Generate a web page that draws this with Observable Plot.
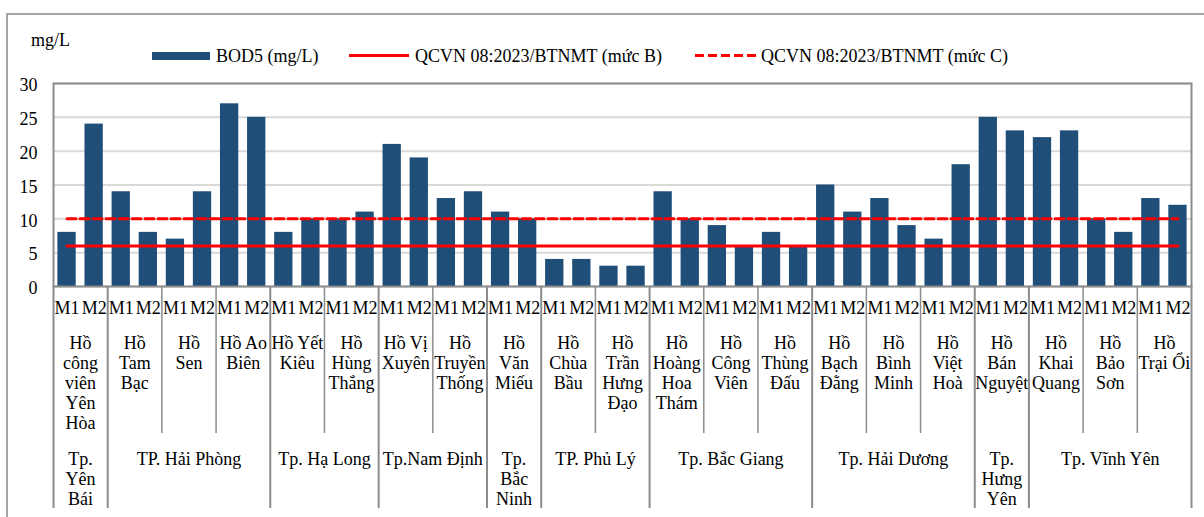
<!DOCTYPE html>
<html>
<head>
<meta charset="utf-8">
<script src="https://cdn.jsdelivr.net/npm/d3@7"></script>
<script src="https://cdn.jsdelivr.net/npm/@observablehq/plot@0.6"></script>
<style>
  html, body { margin: 0; padding: 0; background: #fff; overflow: hidden; }
  body { width: 1204px; height: 517px; font-family: "Liberation Serif", "Times New Roman", serif; color: #000; }
  #wrap { position: absolute; left: 6px; top: 13px; width: 1250px; height: 560px; border: 2px solid #a6a6a6; background: #fff; }
  #head { position: relative; height: 55px; }
  .t { position: absolute; font-family: "Liberation Serif", "Times New Roman", serif; font-size: 18px; line-height: 18px; white-space: nowrap; }
  .sw { position: absolute; }
  #chart svg { display: block; }
</style>
</head>
<body>
<div id="wrap">
  <div id="head">
    <div class="t" id="unit" style="left:23px;top:15.6px;"></div>
    <div class="sw" style="left:144px;top:37px;width:58px;height:8px;background:#1f4e79;"></div>
    <div class="t" id="lg0" style="left:208px;top:31.6px;"></div>
    <div class="sw" style="left:341px;top:38.5px;width:60px;height:3px;background:#ff0000;"></div>
    <div class="t" id="lg1" style="left:407px;top:31.6px;"></div>
    <div class="sw" style="left:687px;top:38.5px;width:61px;height:3px;background:repeating-linear-gradient(to right,#ff0000 0 9px,transparent 9px 13px);"></div>
    <div class="t" id="lg2" style="left:753px;top:31.6px;"></div>
  </div>
  <div id="chart"></div>
</div>
<script>
// ---- data ----
const unitLabel = "mg/L";
const seriesNames = ["BOD5 (mg/L)", "QCVN 08:2023/BTNMT (mức B)", "QCVN 08:2023/BTNMT (mức C)"];
const sampleLabels = ["M1", "M2"];
const lakeNames = [
  "Hồ\ncông\nviên\nYên\nHòa",
  "Hồ\nTam\nBạc",
  "Hồ\nSen",
  "Hồ Ao\nBiên",
  "Hồ Yết\nKiêu",
  "Hồ\nHùng\nThắng",
  "Hồ Vị\nXuyên",
  "Hồ\nTruyền\nThống",
  "Hồ\nVăn\nMiếu",
  "Hồ\nChùa\nBầu",
  "Hồ\nTrần\nHưng\nĐạo",
  "Hồ\nHoàng\nHoa\nThám",
  "Hồ\nCông\nViên",
  "Hồ\nThùng\nĐấu",
  "Hồ\nBạch\nĐằng",
  "Hồ\nBình\nMinh",
  "Hồ\nViệt\nHoà",
  "Hồ\nBán\nNguyệt",
  "Hồ\nKhai\nQuang",
  "Hồ\nBảo\nSơn",
  "Hồ\nTrại Ổi"
];
const cityNames = [
  "Tp.\nYên\nBái",
  "TP. Hải Phòng",
  "Tp. Hạ Long",
  "Tp.Nam Định",
  "Tp.\nBắc\nNinh",
  "TP. Phủ Lý",
  "Tp. Bắc Giang",
  "Tp. Hải Dương",
  "Tp.\nHưng\nYên",
  "Tp. Vĩnh Yên"
];
const cityLakeCounts = [1, 3, 2, 2, 1, 2, 3, 3, 1, 3];
const bodM1 = [8, 14, 7, 27, 8, 10, 21, 13, 11, 4, 3, 14, 9, 8, 15, 13, 7, 25, 22, 10, 13];
const bodM2 = [24, 8, 14, 25, 10, 11, 19, 14, 10, 4, 3, 10, 6, 6, 11, 9, 18, 23, 23, 8, 12];
const levelB = 6;
const levelC = 10;
const yTicks = [0, 5, 10, 15, 20, 25, 30];

// ---- header text ----
document.getElementById("unit").textContent = unitLabel;
document.getElementById("lg0").textContent = seriesNames[0];
document.getElementById("lg1").textContent = seriesNames[1];
document.getElementById("lg2").textContent = seriesNames[2];

// ---- build tables ----
const nPer = sampleLabels.length;
const bars = [];
lakeNames.forEach((name, k) => {
  [bodM1[k], bodM2[k]].forEach((v, j) => {
    bars.push({i: k * nPer + j, lake: k, sample: sampleLabels[j], value: v});
  });
});
const lakes = lakeNames.map((name, k) => ({x: k * nPer + nPer / 2, name}));
const cities = [];
let acc = 0;
const cityBounds = [0];
cityNames.forEach((name, c) => {
  const start = acc * nPer;
  acc += cityLakeCounts[c];
  const end = acc * nPer;
  cities.push({x: (start + end) / 2, name});
  cityBounds.push(end);
});
const lakeBounds = d3.range(0, lakeNames.length * nPer + 1, nPer).filter(b => !cityBounds.includes(b));
const nBars = bars.length;

const font = "\"Liberation Serif\", \"Times New Roman\", serif";
const chart = Plot.plot({
  width: 1196,
  height: 447,
  marginLeft: 45,
  marginRight: 13,
  marginTop: 13,
  marginBottom: 231,
  style: {fontFamily: font, fontSize: "18px", background: "transparent", overflow: "visible", color: "#000"},
  x: {type: "linear", domain: [0, nBars], axis: null},
  y: {domain: [0, 30], axis: null},
  marks: [
    Plot.gridY(yTicks, {stroke: "#d9d9d9", strokeWidth: 2, strokeOpacity: 1}),
    Plot.axisY(yTicks, {tickSize: 0, tickPadding: 16, fontSize: 18, dy: 2, label: null, fill: "#000", fontFamily: font}),
    Plot.rectY(bars, {x1: "i", x2: d => d.i + 1, y: "value", fill: "#1f4e79", insetLeft: 4.4, insetRight: 4.4}),
    Plot.lineY(bars, {x: d => d.i + 0.5, y: () => levelC, stroke: "#ff0000", strokeWidth: 3, strokeDasharray: "9,4"}),
    Plot.lineY(bars, {x: d => d.i + 0.5, y: () => levelB, stroke: "#ff0000", strokeWidth: 3}),
    Plot.frame({stroke: "#8c8c8c", strokeWidth: 2}),
    Plot.ruleX(lakeBounds, {x: d => d, y1: 0, y2: 0, insetBottom: -147, stroke: "#8c8c8c", strokeWidth: 1.5}),
    Plot.ruleX(cityBounds, {x: d => d, y1: 0, y2: 0, insetBottom: -222, stroke: "#8c8c8c", strokeWidth: 2}),
    Plot.text(bars, {x: d => d.i + 0.5, text: "sample", frameAnchor: "bottom", lineAnchor: "top", dy: 15.2, fontSize: 18, fill: "#000"}),
    Plot.text(lakes, {x: "x", text: "name", frameAnchor: "bottom", lineAnchor: "top", dy: 48.5, lineHeight: 1.111, fontSize: 18, fill: "#000"}),
    Plot.text(cities, {x: "x", text: "name", frameAnchor: "bottom", lineAnchor: "top", dy: 164, lineHeight: 1.111, fontSize: 18, fill: "#000"})
  ]
});
document.getElementById("chart").appendChild(chart);
</script>
</body>
</html>
